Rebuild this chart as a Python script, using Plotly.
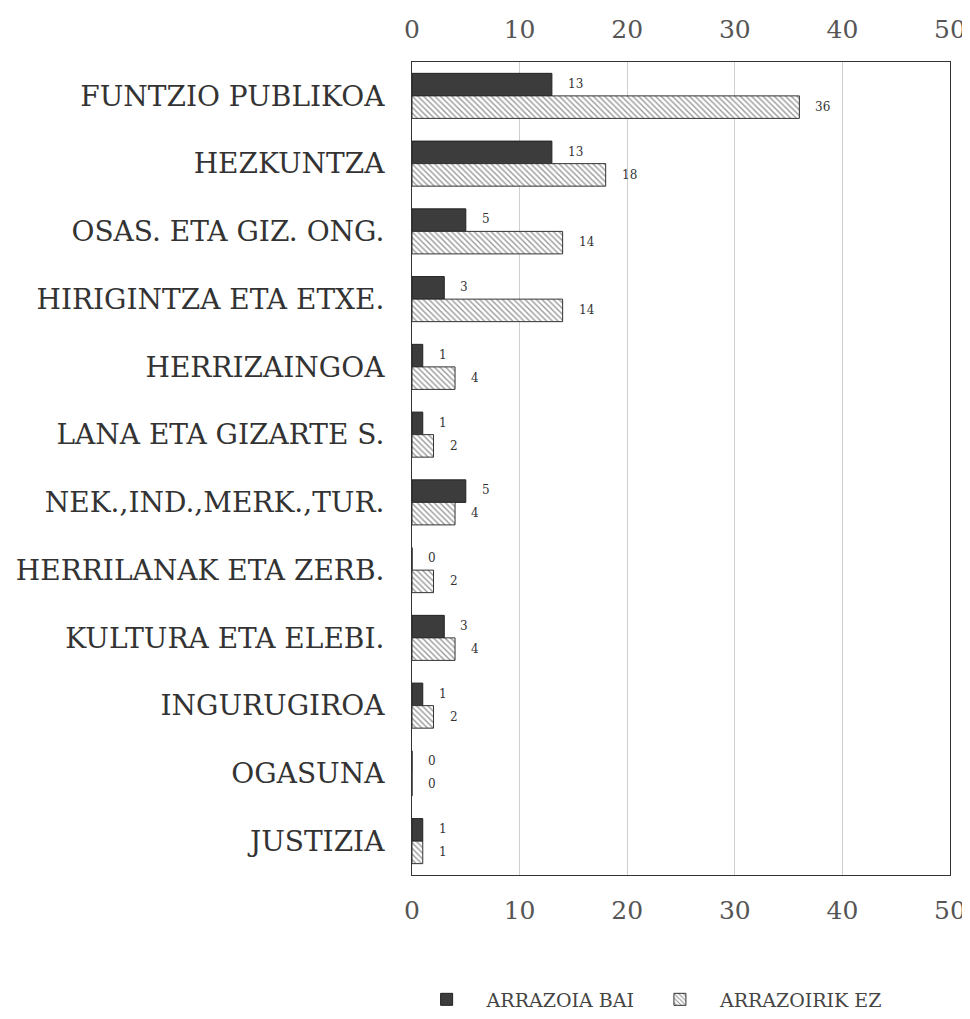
import plotly.graph_objects as go

categories = [
    "FUNTZIO PUBLIKOA", "HEZKUNTZA", "OSAS. ETA GIZ. ONG.", "HIRIGINTZA ETA ETXE.",
    "HERRIZAINGOA", "LANA ETA GIZARTE S.", "NEK.,IND.,MERK.,TUR.", "HERRILANAK ETA ZERB.",
    "KULTURA ETA ELEBI.", "INGURUGIROA", "OGASUNA", "JUSTIZIA",
]
arrazoia_bai = [13, 13, 5, 3, 1, 1, 5, 0, 3, 1, 0, 1]
arrazoirik_ez = [36, 18, 14, 14, 4, 2, 4, 2, 4, 2, 0, 1]
x_ticks = [0, 10, 20, 30, 40, 50]

font = "DejaVu Serif, Liberation Serif, serif"
ink = "#333333"

fig = go.Figure()
fig.add_trace(go.Bar(
    y=categories, x=arrazoia_bai, orientation="h", name="ARRAZOIA BAI",
    marker=dict(color="#3c3c3c", line=dict(color="#222", width=1)),
))
fig.add_trace(go.Bar(
    y=categories, x=arrazoirik_ez, orientation="h", name="ARRAZOIRIK EZ",
    marker=dict(color="white", line=dict(color="#333", width=1),
                pattern=dict(shape="\\", fgcolor="#333", bgcolor="white",
                             size=4, solidity=0.35)),
))
# invisible trace so the top axis is drawn
fig.add_trace(go.Scatter(x=x_ticks, y=[categories[0]] * len(x_ticks), xaxis="x2",
                         mode="markers", marker=dict(opacity=0), showlegend=False,
                         hoverinfo="skip"))

# value labels
for cat, v in zip(categories, arrazoia_bai):
    fig.add_annotation(x=v, y=cat, text=str(v), showarrow=False, xanchor="left",
                       xshift=14, yshift=12, font=dict(size=12, color=ink, family=font))
for cat, v in zip(categories, arrazoirik_ez):
    fig.add_annotation(x=v, y=cat, text=str(v), showarrow=False, xanchor="left",
                       xshift=14, yshift=-11, font=dict(size=12, color=ink, family=font))

fig.update_layout(
    width=970, height=1019,
    barmode="group", bargap=0.335, bargroupgap=0,
    plot_bgcolor="white", paper_bgcolor="white",
    margin=dict(l=404, r=28, t=54, b=152, autoexpand=False),
    font=dict(family=font, color=ink),
    xaxis=dict(range=[0, 50], tickvals=x_ticks, showgrid=True, gridcolor="#cfcfcf",
               gridwidth=1, zeroline=False, showline=True, linecolor="#333",
               mirror=True, automargin=False,
               tickfont=dict(size=25, color="#555"), ticklabelstandoff=13),
    xaxis2=dict(range=[0, 50], tickvals=x_ticks, overlaying="x", side="top",
                anchor="y", showgrid=False, zeroline=False, showline=False,
                automargin=False,
                tickfont=dict(size=25, color="#555"), ticklabelstandoff=18),
    yaxis=dict(range=[11.5, -0.5], showgrid=False, zeroline=False,
               showline=True, linecolor="#333", mirror=True, automargin=False,
               tickfont=dict(size=28, color=ink), ticklabelstandoff=21),
    legend=dict(orientation="h", x=-0.01, xanchor="left", yref="container",
                y=0.027, yanchor="middle",
                font=dict(size=19, color="#444"), traceorder="normal", itemwidth=70),
)

fig.write_html("out.html")
